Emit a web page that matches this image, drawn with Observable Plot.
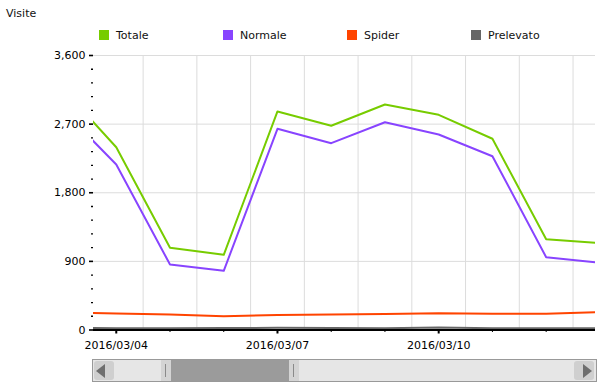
<!DOCTYPE html>
<html>
<head>
<meta charset="utf-8">
<script src="https://cdn.jsdelivr.net/npm/d3@7"></script>
<script src="https://cdn.jsdelivr.net/npm/@observablehq/plot@0.6"></script>
<style>
  html, body { margin: 0; padding: 0; background: #fff; }
  body { font-family: "DejaVu Sans", Verdana, sans-serif; font-size: 11px; color: #111; }
  #wrap { position: relative; width: 611px; height: 388px; overflow: hidden; }
  #title { position: absolute; left: 6px; top: 7px; line-height: 13px; }
  #legend { position: absolute; left: 99px; top: 29px; display: flex; }
  .item { width: 124px; display: flex; align-items: center; height: 12px; }
  .sw { width: 10px; height: 10px; margin-right: 7px; flex: none; }
  #chart { position: absolute; left: 0; top: 48px; }
  #scroll { position: absolute; left: 92px; top: 359px; width: 505px; height: 23px;
            box-sizing: border-box; border: 1px solid #999; background: #e6e6e6; }
  .btn { position: absolute; top: 1px; width: 20px; height: 19px; background: #cfcfcf; border-radius: 3px; }
  .btn.l { left: 1px; } .btn.r { right: 2px; }
  .tri { position: absolute; top: 3px; width: 0; height: 0; border-top: 7px solid transparent; border-bottom: 7px solid transparent; }
  .btn.l .tri { left: 2px; border-right: 9px solid #6e6e6e; }
  .btn.r .tri { right: 2px; border-left: 9px solid #6e6e6e; }
  .handle { position: absolute; top: 0; width: 10px; height: 21px; background: #d4d4d4; }
  .handle::after { content: ""; position: absolute; left: 4px; top: 4px; width: 1px; height: 13px; background: #8a8a8a; }
  #thumb { position: absolute; top: 0; left: 78px; width: 119px; height: 21px; background: #9b9b9b; }
</style>
</head>
<body>
<div id="wrap">
  <div id="title">Visite</div>
  <div id="legend"></div>
  <div id="chart"></div>
  <div id="scroll">
    <div class="btn l"><div class="tri"></div></div>
    <div class="handle" style="left:68px"></div>
    <div id="thumb"></div>
    <div class="handle" style="left:196px"></div>
    <div class="btn r"><div class="tri"></div></div>
  </div>
</div>
<script>
// ---- data ----
const dates = ["2016-03-03","2016-03-04","2016-03-05","2016-03-06","2016-03-07","2016-03-08",
               "2016-03-09","2016-03-10","2016-03-11","2016-03-12","2016-03-13"];
const totale    = [3170, 2397, 1078, 986, 2866, 2678, 2957, 2822, 2508, 1191, 1140];
const normale   = [2890, 2171,  859, 776, 2639, 2450, 2725, 2564, 2279,  955,  883];
const spider    = [ 233,  216,  203, 181,  197,  203,  210,  220,  212,  212,  235];
const prelevato = [  30,   24,   24,  26,   28,   25,   24,   34,   23,   24,   23];
const seriesNames  = ["Totale", "Normale", "Spider", "Prelevato"];
const seriesColors = ["#77cc00", "#8844ff", "#ff4400", "#666666"];
const yTickValues  = [0, 900, 1800, 2700, 3600];
const xTickLabels  = ["2016/03/04", "2016/03/07", "2016/03/10"];
const viewStart = "2016-03-03T13:50:00Z";
const viewEnd   = "2016-03-12T22:02:00Z";

// ---- build ----
const parseDay = d3.utcParse("%Y-%m-%d");
const parseLabel = d3.utcParse("%Y/%m/%d");
const domain = [new Date(viewStart), new Date(viewEnd)];
const inView = d => d >= domain[0] && d <= domain[1];
const days = dates.map(parseDay);
const valuesBySeries = [totale, normale, spider, prelevato];
const rows = [];
seriesNames.forEach((name, s) => {
  days.forEach((d, i) => rows.push({date: d, value: valuesBySeries[s][i], series: name}));
});
const majorX = xTickLabels.map(parseLabel);
const minorX = days.filter(d => inView(d) && !majorX.some(m => +m === +d));
const gridX = days.map(d => d3.utcHour.offset(d, 12)).filter(inView);
const minorY = d3.range(180, 3600, 180).filter(v => v % 900 !== 0);

// legend
const legend = document.getElementById("legend");
seriesNames.forEach((n, i) => {
  const it = document.createElement("div");
  it.className = "item";
  it.innerHTML = `<span class="sw" style="background:${seriesColors[i]}"></span><span>${n}</span>`;
  legend.appendChild(it);
});

const chart = Plot.plot({
  width: 611,
  height: 310,
  marginTop: 7,
  marginBottom: 28.5,
  marginLeft: 93,
  marginRight: 16,
  style: {fontFamily: "DejaVu Sans, Verdana, sans-serif", fontSize: "11px", color: "#000", background: "transparent"},
  x: {type: "utc", domain, label: null},
  y: {domain: [0, 3600], label: null},
  color: {domain: seriesNames, range: seriesColors},
  marks: [
    Plot.gridX(gridX, {stroke: "#dcdcdc", strokeOpacity: 1}),
    Plot.gridY(yTickValues.filter(v => v > 0), {stroke: "#dcdcdc", strokeOpacity: 1}),
    Plot.axisY(minorY, {tickSize: 2, tickFormat: () => "", strokeWidth: 1.3, label: null}),
    Plot.axisY(yTickValues, {tickSize: 4, tickPadding: 4, tickFormat: d3.format(","), strokeWidth: 1.6, label: null}),
    Plot.axisX(minorX, {tickSize: 2.5, tickFormat: () => "", strokeWidth: 1, label: null}),
    Plot.axisX(majorX, {tickSize: 4, tickPadding: 7, tickFormat: d3.utcFormat("%Y/%m/%d"), strokeWidth: 2, label: null}),
    Plot.line(rows.filter(r => r.series === "Prelevato"), {x: "date", y: "value", stroke: "series", strokeWidth: 2, clip: true}),
    Plot.line(rows.filter(r => r.series === "Spider"), {x: "date", y: "value", stroke: "series", strokeWidth: 2, clip: true}),
    Plot.line(rows.filter(r => r.series === "Normale"), {x: "date", y: "value", stroke: "series", strokeWidth: 2, clip: true}),
    Plot.line(rows.filter(r => r.series === "Totale"), {x: "date", y: "value", stroke: "series", strokeWidth: 2, clip: true}),
    Plot.ruleY([0], {stroke: "#000", strokeWidth: 2})
  ]
});
document.getElementById("chart").appendChild(chart);
</script>
</body>
</html>
